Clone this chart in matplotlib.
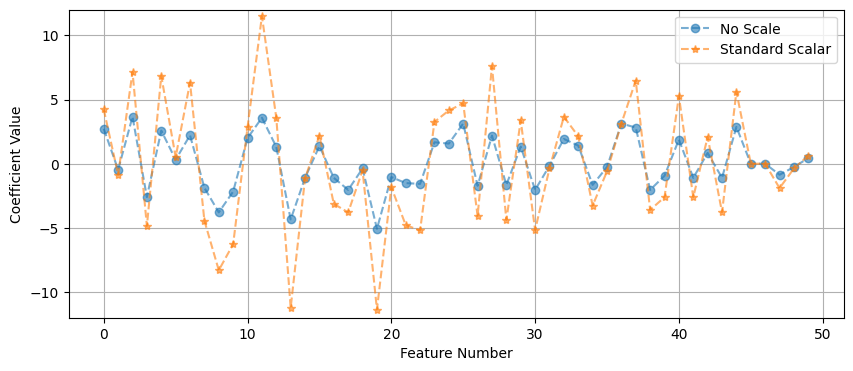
import matplotlib
matplotlib.use("Agg")
import matplotlib.pyplot as plt
import numpy as np

features = list(range(50))
no_scale = [2.72, -0.47, 3.66, -2.6, 2.58, 0.31, 2.22, -1.88, -3.79, -2.17,
            2.0, 3.58, 1.31, -4.34, -1.1, 1.38, -1.1, -2.04, -0.37, -5.07,
            -1.04, -1.51, -1.57, 1.67, 1.57, 3.13, -1.72, 2.19, -1.65, 1.33,
            -2.04, -0.16, 1.93, 1.41, -1.65, -0.26, 3.13, 2.82, -2.04, -0.94,
            1.88, -1.1, 0.84, -1.1, 2.87, 0.0, 0.0, -0.86, -0.26, 0.44]
standard_scalar = [4.23, -0.86, 7.15, -4.86, 6.84, 0.52, 6.32, -4.44, -8.3, -6.27,
                   2.85, 11.5, 3.58, -11.22, -1.15, 2.19, -3.13, -3.79, -0.52, -11.36,
                   -1.83, -4.78, -5.2, 3.26, 4.15, 4.7, -4.07, 7.6, -4.39, 3.37,
                   -5.17, -0.37, 3.66, 2.14, -3.26, -0.6, 3.13, 6.48, -3.6, -2.61,
                   5.27, -2.61, 2.09, -3.79, 5.61, 0.0, 0.0, -1.9, -0.37, 0.63]

fig, ax = plt.subplots(figsize=(10, 4), dpi=100)
ax.plot(features, no_scale, 'o--', alpha=0.6, label='No Scale')
ax.plot(features, standard_scalar, '*--', alpha=0.6, label='Standard Scalar')
ax.set_ylim(-12, 12)
ax.set_xlabel('Feature Number')
ax.set_ylabel('Coefficient Value')
ax.grid(True)
ax.legend()
fig.savefig('out.png', bbox_inches='tight')
